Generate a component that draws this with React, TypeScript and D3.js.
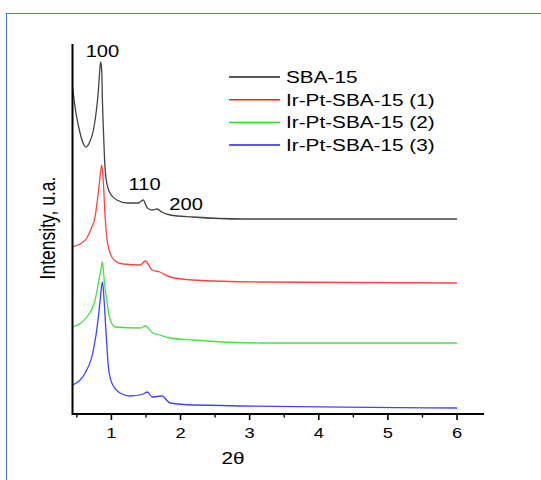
import React, { useRef, useEffect } from "react";
import * as d3 from "d3";

// 2θ positions and intensities (a.u.)
const sba15X = [0.44, 0.48, 0.53, 0.59, 0.63, 0.68, 0.74, 0.78, 0.81, 0.83, 0.844, 0.86, 0.87, 0.89, 0.91, 0.95, 1.01, 1.08, 1.23, 1.39, 1.46, 1.52, 1.59, 1.66, 1.73, 1.85, 2.18, 2.91, 6.0];
const sba15Y = [326, 304, 286, 271, 267, 271, 284, 302, 322, 342, 352, 344, 314, 274, 244, 226, 218, 214, 211, 211, 214, 206, 204, 205, 202, 199, 197, 195, 195];

const irPt1X = [0.44, 0.547, 0.644, 0.717, 0.764, 0.797, 0.826, 0.861, 0.884, 0.909, 0.933, 0.981, 1.054, 1.17, 1.42, 1.49, 1.59, 1.7, 1.85, 2.18, 3.15, 6.0];
const irPt1Y = [167, 170, 176, 187, 197, 214, 231, 249, 231, 197, 177, 161, 153, 150, 149, 153, 144, 142, 137, 134, 132, 131];

const irPt2X = [0.44, 0.644, 0.764, 0.812, 0.847, 0.87, 0.884, 0.899, 0.933, 0.971, 1.054, 1.42, 1.49, 1.6, 1.7, 1.85, 2.18, 3.15, 6.0];
const irPt2Y = [87, 97, 114, 131, 144, 152, 144, 131, 114, 97, 87, 86, 88, 81, 79, 76, 74, 71, 71];

const irPt3X = [0.44, 0.62, 0.74, 0.812, 0.837, 0.87, 0.894, 0.923, 0.957, 1.006, 1.126, 1.27, 1.46, 1.52, 1.59, 1.73, 1.85, 2.18, 6.0];
const irPt3Y = [29, 41, 64, 97, 114, 132, 114, 81, 47, 31, 21, 18, 20, 22, 17, 18, 11, 9, 6];

const seriesNames = ["SBA-15", "Ir-Pt-SBA-15 (1)", "Ir-Pt-SBA-15 (2)", "Ir-Pt-SBA-15 (3)"];
const seriesColors = ["#222222", "#ff2020", "#20e020", "#2020ff"];

const majorTicks = [1, 2, 3, 4, 5, 6];
const minorTicks = [0.5, 1.5, 2.5, 3.5, 4.5, 5.5];

// peak labels: [label, 2θ, intensity]
const peakLabels: [string, number, number][] = [
  ["100", 0.87, 357],
  ["110", 1.48, 224],
  ["200", 2.08, 204],
];

const App = () => {
  const svgRef = useRef<SVGSVGElement>(null);

  useEffect(() => {
    const svg = d3.select(svgRef.current);
    svg.selectAll("*").remove();

    const width = 541;
    const height = 480;
    const sx = 1.22; // the picture is stretched horizontally
    const font = "Liberation Sans, Arial, sans-serif";

    svg.attr("width", width).attr("height", height);

    // frame
    svg
      .append("path")
      .attr("d", `M6.5,${height} V13.5 H${width}`)
      .attr("fill", "none")
      .attr("stroke", "#4f81bd")
      .attr("stroke-width", 1.2);

    const x = d3.scaleLinear().domain([0.43, 6.39]).range([72, 484]);
    const y = d3.scaleLinear().domain([0, 370]).range([414, 44]);

    const series = [
      [sba15X, sba15Y],
      [irPt1X, irPt1Y],
      [irPt2X, irPt2Y],
      [irPt3X, irPt3Y],
    ];

    const line = d3
      .line<[number, number]>()
      .x(d => x(d[0]))
      .y(d => y(d[1]))
      .curve(d3.curveMonotoneX);

    series.forEach(([xs, ys], i) => {
      const pts = xs.map((v, j) => [v, ys[j]] as [number, number]);
      svg
        .append("path")
        .attr("d", line(pts))
        .attr("fill", "none")
        .attr("stroke", seriesColors[i])
        .attr("stroke-width", 1.3)
        .attr("opacity", 0.85);
    });

    // axes
    svg
      .append("path")
      .attr("d", `M72.5,44 V414 H484`)
      .attr("fill", "none")
      .attr("stroke", "#000")
      .attr("stroke-width", 2);

    svg
      .selectAll("line.major")
      .data(majorTicks)
      .join("line")
      .attr("class", "major")
      .attr("x1", d => x(d))
      .attr("x2", d => x(d))
      .attr("y1", 414)
      .attr("y2", 420)
      .attr("stroke", "#000")
      .attr("stroke-width", 1.6);

    svg
      .selectAll("line.minor")
      .data(minorTicks)
      .join("line")
      .attr("class", "minor")
      .attr("x1", d => x(d))
      .attr("x2", d => x(d))
      .attr("y1", 414)
      .attr("y2", 417.5)
      .attr("stroke", "#000")
      .attr("stroke-width", 1.4);

    svg
      .selectAll("text.tick")
      .data(majorTicks)
      .join("text")
      .attr("class", "tick")
      .attr("transform", d => `translate(${x(d)},438) scale(${sx},1)`)
      .attr("text-anchor", "middle")
      .attr("font-family", font)
      .attr("font-size", 15)
      .attr("fill", "#000")
      .text(d => d);

    svg
      .append("text")
      .attr("transform", `translate(233,464) scale(${sx},1)`)
      .attr("text-anchor", "middle")
      .attr("font-family", font)
      .attr("font-size", 17)
      .attr("fill", "#000")
      .text("2θ");

    svg
      .append("text")
      .attr("transform", `translate(55,228) scale(${sx},1) rotate(-90)`)
      .attr("text-anchor", "middle")
      .attr("font-family", font)
      .attr("font-size", 17.5)
      .attr("fill", "#000")
      .text("Intensity, u.a.");

    // peak labels
    svg
      .selectAll("text.peak")
      .data(peakLabels)
      .join("text")
      .attr("class", "peak")
      .attr("transform", d => `translate(${x(d[1])},${y(d[2])}) scale(${sx},1)`)
      .attr("text-anchor", "middle")
      .attr("font-family", font)
      .attr("font-size", 16.5)
      .attr("fill", "#000")
      .text(d => d[0]);

    // legend
    const legend = svg
      .selectAll("g.legend")
      .data(seriesNames)
      .join("g")
      .attr("class", "legend")
      .attr("transform", (d, i) => `translate(229,${77 + i * 22.7})`);

    legend
      .append("line")
      .attr("x1", 0)
      .attr("x2", 51)
      .attr("stroke", (d, i) => seriesColors[i])
      .attr("stroke-width", 1.5);

    legend
      .append("text")
      .attr("transform", `translate(57,6) scale(${sx},1)`)
      .attr("font-family", font)
      .attr("font-size", 17)
      .attr("fill", "#000")
      .text(d => d);
  }, []);

  return <svg ref={svgRef} style={{ position: "absolute", left: 0, top: 0 }} />;
};

export default App;
